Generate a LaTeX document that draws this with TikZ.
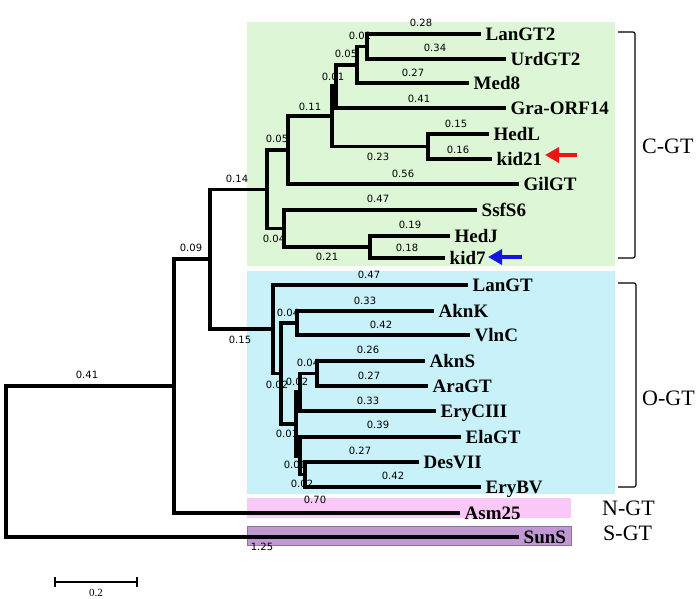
\documentclass[tikz,border=0pt]{standalone}
\usepackage{fontspec}
\setmainfont{Liberation Serif}
\newfontfamily\blfont{DejaVu Sans}
\usetikzlibrary{arrows.meta}
\definecolor{vertC}{RGB}{221,247,214}
\definecolor{bleuO}{RGB}{200,241,250}
\definecolor{roseN}{RGB}{250,200,246}
\definecolor{violS}{RGB}{192,152,210}
\definecolor{rougeK}{RGB}{240,20,20}
\definecolor{bleuK}{RGB}{20,20,230}

\begin{document}
\begin{tikzpicture}[x=1pt,y=-1pt,
    branch/.style={line width=3.8pt},
    blen/.style={inner sep=0pt,text height=7.4pt,text depth=0pt,
      font=\blfont\fontsize{10}{10}\selectfont},
    leaf/.style={anchor=west,inner sep=0pt,text height=12.6pt,text depth=0pt,
      font=\bfseries\fontsize{19}{21}\selectfont},
    grp/.style={anchor=west,inner sep=0pt,text height=14.6pt,text depth=0pt,
      font=\fontsize{22}{24}\selectfont},
    brack/.style={line width=1.2pt,rounded corners=2pt}]
    \useasboundingbox (0,0) rectangle (699,599);
    % groupes
    \fill[color=vertC] (247,22) rectangle (615,266);
    \fill[color=bleuO] (247,271) rectangle (615,494);
    \fill[color=roseN] (247,498) rectangle (571,518);
    \fill[color=violS,draw=violS!75!black,line width=0.6pt] (247,526) rectangle (571,545);
    % longueurs des branches
    \foreach \bx/\by/\bl [count=\i] in {421/23/0.28, 435/48/0.34, 413/73/0.27,
        419/99/0.41, 456/124/0.15, 310/107/0.11, 360/36/0.02, 346/54/0.05,
        333/77/0.01, 277/139/0.05, 378/157/0.23, 458/150/0.16, 403/174/0.56,
        378/199/0.47, 410/225/0.19, 407/248/0.18, 327/257/0.21, 274/239/0.04,
        237/179/0.14, 191/248/0.09, 240/340/0.15, 87/375/0.41, 369/275/0.47,
        365/301/0.33, 381/325/0.42, 368/350/0.26, 369/376/0.27, 368/401/0.33,
        378/425/0.39, 360/451/0.27, 393/476/0.42, 315/500/0.70, 262/547/1.25,
        288/313/0.04, 277/385/0.02, 297/382/0.02, 308/363/0.04, 287/434/0.01,
        295/465/0.01, 302/484/0.02}
      \node[blen] (bl\i) at (\bx,\by) {\bl};
    % noeuds internes
    \coordinate (H) at (367,46.5);
    \coordinate (I) at (357,64.75);
    \coordinate (F) at (336,86.4);
    \coordinate (G) at (428,146.5);
    \coordinate (E) at (332,116.4);
    \coordinate (D) at (288,150.2);
    \coordinate (K) at (370,247);
    \coordinate (J) at (284,228.5);
    \coordinate (C) at (267,189.4);
    \coordinate (N) at (297,323);
    \coordinate (O) at (317,373.5);
    \coordinate (Q) at (300,392);
    \coordinate (S) at (305,474.5);
    \coordinate (R) at (300,455.8);
    \coordinate (P) at (296,424);
    \coordinate (M) at (281,373.5);
    \coordinate (L) at (273,329);
    \coordinate (B) at (210,259);
    \coordinate (A) at (174,386);
    \coordinate (racine) at (6,461.5);
    % feuilles
    \foreach \nm/\xe/\ye/\txt in {lanGTii/481/34/LanGT2, urdGTii/506/59/UrdGT2,
        med/469/83/Med8, graORF/506/108/Gra-ORF14, hedL/489/134/HedL,
        kidxxi/492/159/kid21, gilGT/519/184/GilGT, ssfS/477/210/SsfS6,
        hedJ/450/236/HedJ, kidvii/445/258/kid7, lanGT/468/285/LanGT,
        aknK/434/311/AknK, vlnC/470/335/VlnC, aknS/425/361/AknS,
        araGT/428/386/AraGT, eryCIII/436/411/EryCIII, elaGT/461/437/ElaGT,
        desVII/419/462/DesVII, eryBV/481/487/EryBV, asm/460/513/Asm25,
        sunS/519/537/SunS}
    {
      \coordinate (\nm e) at (\xe,\ye);
      \node[leaf] (\nm) at (\xe+4.5,\ye) {\txt};
    }
    % arbre
    \draw[branch] (racine) |- (A) (racine) |- (sunSe);
    \draw[branch] (A) |- (B) (A) |- (asme);
    \draw[branch] (B) |- (C) (B) |- (L);
    \draw[branch] (C) |- (D) (C) |- (J);
    \draw[branch] (D) |- (E) (D) |- (gilGTe);
    \draw[branch] (E) |- (F) (E) |- (G);
    \draw[branch] (F) |- (I) (F) |- (graORFe);
    \draw[branch] (I) |- (H) (I) |- (mede);
    \draw[branch] (H) |- (lanGTiie) (H) |- (urdGTiie);
    \draw[branch] (G) |- (hedLe) (G) |- (kidxxie);
    \draw[branch] (J) |- (ssfSe) (J) |- (K);
    \draw[branch] (K) |- (hedJe) (K) |- (kidviie);
    \draw[branch] (L) |- (lanGTe) (L) |- (M);
    \draw[branch] (M) |- (N) (M) |- (P);
    \draw[branch] (N) |- (aknKe) (N) |- (vlnCe);
    \draw[branch] (P) |- (Q) (P) |- (R);
    \draw[branch] (Q) |- (O) (Q) |- (eryCIIIe);
    \draw[branch] (O) |- (aknSe) (O) |- (araGTe);
    \draw[branch] (R) |- (elaGTe) (R) |- (S);
    \draw[branch] (S) |- (desVIIe) (S) |- (eryBVe);
    % fleches
    \coordinate (rq) at (577,155);
    \coordinate (rp) at (545,155);
    \coordinate (bq) at (522,257);
    \coordinate (bp) at (488,257);
    \draw[rougeK,line width=4.5pt,-{Triangle[length=14pt,width=15pt]}] (rq) -- (rp);
    \draw[bleuK,line width=4.5pt,-{Triangle[length=14pt,width=15pt]}] (bq) -- (bp);
    % accolades
    \draw[brack] (618,32) -- (635,32) -- (635,258) -- (618,258);
    \draw[brack] (618,283) -- (636,283) -- (636,487) -- (618,487);
    \node[grp] (cGT) at (642,146) {C-GT};
    \node[grp] (oGT) at (642,398) {O-GT};
    \node[grp] (nGT) at (602,508) {N-GT};
    \node[grp] (sGT) at (603,533) {S-GT};
    % echelle
    \draw[line width=1.2pt] (55,577) -- (55,587) (55,582) -- (137,582) (137,577) -- (137,587);
    \node[inner sep=0pt,font=\fontsize{11}{12}\selectfont] (echelle) at (96,593) {0.2};
\end{tikzpicture}
\end{document}
